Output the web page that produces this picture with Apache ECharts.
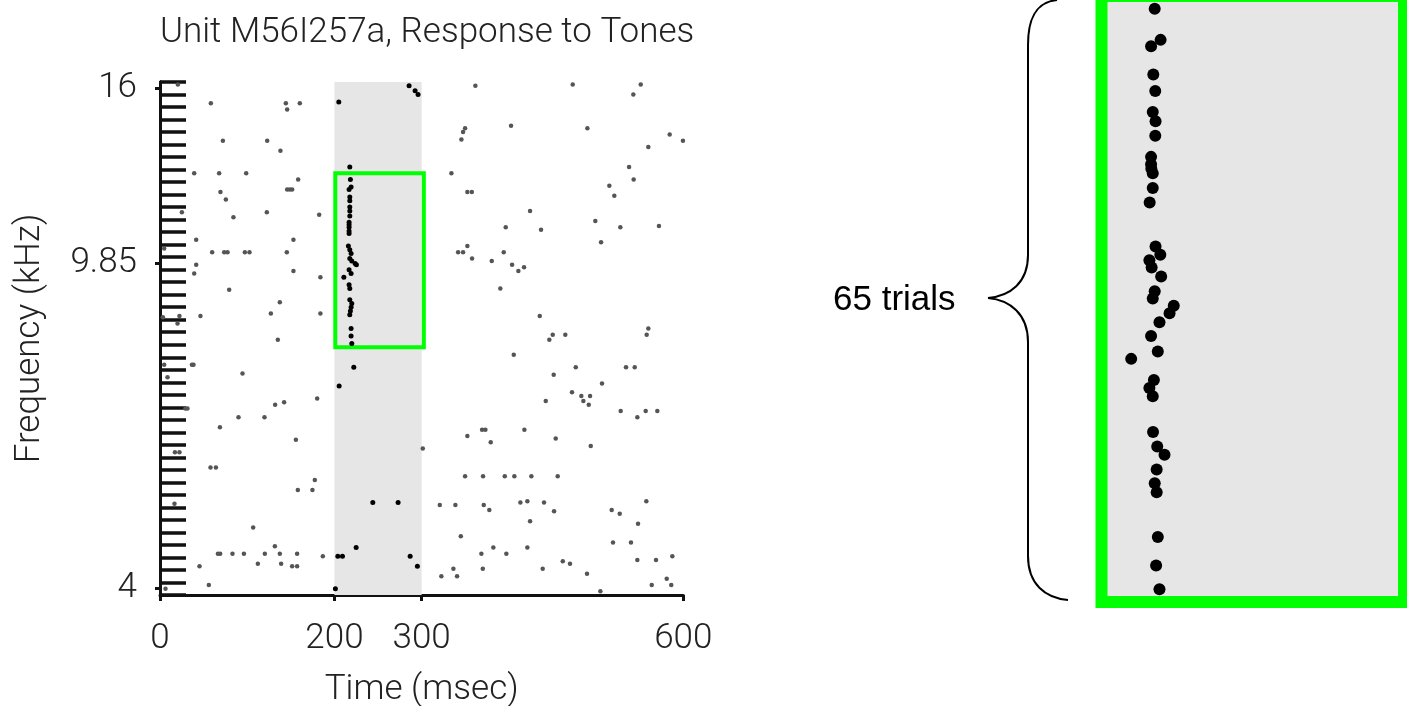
<!DOCTYPE html>
<html>
<head>
<meta charset="utf-8">
<title>Unit M56I257a, Response to Tones</title>
<script src="https://cdn.jsdelivr.net/npm/echarts@6/dist/echarts.min.js"></script>
<style>
    html, body { margin: 0; padding: 0; background: #fff; }
    #main { width: 1407px; height: 706px; }
</style>
</head>
<body>
<div id="main"></div>
<script type="text/javascript">
    var spikeTime = [
        20.5, 58.3, 144.3, 160.3, 145.8, 72.1, 122.9, 138.1, 39.2, 67.8, 98.8, 158.4,
        145.8, 148.9, 151.5, 69.3, 75.5, 25.1, 122.5, 182.5, 84.2, 41.5, 153.0, 4.8,
        59.8, 73.6, 77.4, 97.3, 102.6, 145.4, 41.5, 39.2, 153.0, 183.9, 79.3, 137.4,
        22.3, 3.3, 46.4, 127.1, 183.9, 20.1, 135.1, 205.0,
        4.8, 36.6, 38.4, 94.6, 8.6, 205.4, 180.2, 132.0, 142.3, 29.2, 31.5, 90.0,
        119.8, 68.7, 155.8, 17.1, 22.3, 57.9, 64.1, 177.5, 158.0, 174.8, 16.6, 106.8,
        131.7, 66.4, 69.0, 83.1, 96.2, 120.2, 137.4, 157.2, 186.7, 203.9, 209.2, 45.3,
        112.2, 138.9, 151.5, 157.2, 56.0, 6.3, 201.1,
        285.6, 292.5, 295.9, 222.2, 244.0, 273.0, 224.9, 286.8, 295.1, 301.3,
        217.6, 218.3, 219.1, 216.8, 217.6, 217.6, 217.6, 217.6, 217.6, 216.8, 216.8, 216.8,
        216.8, 216.8, 216.0, 217.6, 219.1, 217.6, 219.9, 223.7, 225.2, 216.8, 219.1, 210.8,
        216.8, 217.6, 217.6, 219.9, 219.1, 218.3, 217.6, 219.1, 219.1, 219.9,
        361.6, 402.5, 349.8, 347.5, 345.6, 334.1, 352.4, 357.5, 396.4, 352.4, 341.8, 347.5,
        357.8, 394.1, 380.4, 403.7, 390.2,
        405.6, 369.3, 373.1, 352.4, 379.2, 349.8, 370.4, 395.3, 406.3, 425.8, 456.0, 320.8,
        338.7, 371.2, 377.6, 344.9, 382.2, 368.5, 397.1, 336.4, 370.1, 322.6, 340.6,
        473.2, 551.2, 542.7, 490.0, 584.4, 599.6, 559.9, 537.8, 543.1, 515.2, 520.9, 424.3,
        436.9, 499.1, 527.8, 572.1, 505.7, 410.9, 417.4, 435.4, 559.9, 558.0, 450.3, 464.7,
        446.4,
        476.7, 534.3, 544.3, 451.4, 506.8, 472.4, 483.1, 493.1, 485.4, 491.6, 442.3, 528.2,
        556.9, 570.2, 547.3, 417.8, 453.7, 493.9, 413.2, 421.2, 440.3, 451.8, 557.6, 517.9,
        527.1, 424.3, 548.1, 519.4, 540.0, 421.2, 547.3, 568.7, 587.4, 438.8, 461.8, 470.1,
        489.6, 581.0, 563.8, 586.2, 504.9
    ];
    var spikeRow = [
        40.3, 38.8, 38.8, 38.8, 38.3, 35.8, 35.8, 35.0, 33.2, 33.2, 33.2, 32.7,
        31.9, 31.9, 31.9, 31.7, 31.1, 30.1, 30.1, 29.9, 29.7, 27.9, 27.9, 27.2,
        26.9, 26.9, 26.9, 26.9, 26.9, 26.9, 25.9, 25.2, 25.4, 24.9, 23.9, 22.9,
        21.8, 21.7, 21.8, 22.0, 22.0, 21.2, 19.9, 38.9,
        17.9, 17.9, 17.9, 17.2, 16.9, 16.2, 15.2, 14.7, 14.9, 14.4, 14.4, 13.7,
        13.7, 12.9, 11.9, 10.9, 10.9, 9.7, 9.7, 8.7, 7.9, 7.9, 6.8, 4.9,
        3.4, 2.8, 2.8, 2.8, 2.8, 2.8, 2.8, 2.8, 2.6, 2.6, 2.6, 1.8,
        2.0, 2.0, 1.8, 1.8, 0.3, 0.0, 0.0,
        40.2, 39.8, 39.5, 17.7, 6.9, 6.9, 3.3, 2.6, 1.8, 11.2,
        33.7, 32.7, 32.1, 31.9, 31.3, 31.0, 30.5, 30.2, 29.8, 29.3, 29.1, 28.9,
        28.6, 28.4, 27.4, 27.1, 26.8, 26.4, 26.2, 26.0, 25.9, 25.5, 25.2, 24.9,
        24.3, 24.0, 23.1, 22.8, 22.5, 22.2, 21.9, 20.8, 20.2, 19.6,
        40.2, 37.0, 36.8, 36.5, 35.9, 33.2, 31.7, 31.7, 28.9, 27.4, 26.9, 26.9,
        26.4, 26.9, 26.2, 25.9, 24.0,
        18.7, 12.7, 12.7, 12.2, 11.7, 9.0, 9.0, 9.0, 9.0, 9.0, 9.0, 6.7,
        6.7, 6.7, 6.3, 4.2, 3.3, 2.8, 2.8, 1.6, 1.6, 1.0, 1.0,
        40.3, 40.3, 39.5, 36.8, 36.3, 35.8, 35.3, 33.7, 32.7, 32.2, 31.4, 30.2,
        28.7, 29.4, 28.9, 29.0, 27.7, 25.4, 25.7, 21.8, 20.8, 20.3, 20.3, 20.3,
        19.9,
        17.7, 17.7, 17.7, 17.1, 16.4, 15.7, 15.4, 15.4, 15.0, 14.7, 15.0, 14.2,
        14.2, 14.2, 13.7, 12.7, 12.0, 11.4, 6.9, 7.0, 6.9, 6.2, 7.0, 6.3,
        6.0, 5.4, 5.2, 3.7, 3.7, 3.3, 2.3, 2.3, 2.6, 1.6, 2.2, 2.0,
        1.2, 0.8, 0.3, 0.3, -0.2
    ];

    // labelled frequencies (kHz) and time ticks (ms)
    var freqKHz = [4, 9.85, 16];
    var freqLabel = ['4', '9.85', '16'];
    var timeTicks = [0, 200, 300, 600];

    // tone on, and the zoomed box (ms / rows)
    var toneWindow = [200, 300];
    var boxTime = [201, 302.5];
    var boxRow = [19.3, 33.2];

    // zoomed inset: spike time (ms) per trial
    var insetTime = [
        217.0, 219.1, 215.7, 216.5, 217.2, 216.3, 217.3, 217.2, 215.7, 215.7, 215.8, 216.3, 216.3,
        215.2, 217.3, 219.0, 215.1, 215.9, 219.3, 217.0, 216.3, 223.8, 222.3, 218.7, 215.7, 218.1,
        208.6, 216.7, 215.1, 216.3, 216.4, 217.9, 220.5, 217.7, 217.0, 217.7, 218.1, 217.5, 218.7
    ];
    var insetTrial = [
        64.2, 60.8, 60.1, 57.0, 55.2, 52.9, 51.9, 50.3, 48.0, 47.2, 46.7, 46.2, 44.6,
        43.0, 38.2, 37.3, 36.7, 35.9, 34.9, 33.3, 32.5, 31.7, 30.9, 29.9, 28.4, 26.7,
        25.9, 23.6, 22.7, 21.8, 17.9, 16.3, 15.4, 13.8, 12.3, 11.3, 6.4, 3.3, 0.7
    ];

    var FONT = 'Roboto';
    var TEXT = { fontFamily: FONT, fontWeight: 300, fontSize: 35, color: '#222' };

    // frequency -> row (20 steps per octave)
    var freqRow = freqKHz.map(function (f) {
        return Math.round(Math.log2(f / 4) * 20 * 100) / 100;
    });
    function inTone(t) {
        return t >= toneWindow[0] && t <= toneWindow[1];
    }
    var spikeData = spikeTime.map(function (t, i) { return [t, spikeRow[i]]; });
    var insetData = insetTime.map(function (t, i) { return [t, insetTrial[i]]; });

    // curly brace next to the inset
    var braceStyle = { fill: 'none', stroke: '#000', lineWidth: 2 };
    function curve(x1, y1, cx1, cy1, cx2, cy2, x2, y2) {
        return {
            type: 'bezierCurve',
            shape: { x1: x1, y1: y1, cpx1: cx1, cpy1: cy1, cpx2: cx2, cpy2: cy2, x2: x2, y2: y2 },
            style: braceStyle
        };
    }
    function segment(x1, y1, x2, y2) {
        return { type: 'line', shape: { x1: x1, y1: y1, x2: x2, y2: y2 }, style: braceStyle };
    }

    var myChart = echarts.init(document.getElementById('main'));

    var option = {
        animation: false,
        backgroundColor: '#fff',
        title: {
            text: 'Unit M56I257a, Response to Tones',
            left: 160,
            top: 16,
            padding: 0,
            textStyle: TEXT
        },
        grid: [
            { left: 160, top: 82, width: 523.3, height: 513, outerBoundsMode: 'none' },
            {
                left: 1101.5, top: -4, width: 302.5, height: 606, outerBoundsMode: 'none',
                show: true, backgroundColor: '#e6e6e6',
                borderColor: '#00ff00', borderWidth: 12
            }
        ],
        xAxis: [
            {
                gridIndex: 0,
                type: 'value',
                min: 0,
                max: 600,
                name: 'Time (msec)',
                nameLocation: 'middle',
                nameGap: 78,
                nameTextStyle: TEXT,
                axisLine: { onZero: false, lineStyle: { color: '#111', width: 3 } },
                axisTick: { customValues: timeTicks, length: 6, lineStyle: { color: '#111', width: 3 } },
                axisLabel: Object.assign({ customValues: timeTicks, margin: 27 }, TEXT),
                splitLine: { show: false }
            },
            { gridIndex: 1, type: 'value', min: 198, max: 306, show: false }
        ],
        yAxis: [
            {
                // one tick per frequency step
                gridIndex: 0,
                type: 'value',
                position: 'left',
                min: -0.5,
                max: 40.5,
                interval: 1,
                axisLine: { onZero: false, show: true, lineStyle: { color: '#111', width: 3 } },
                axisTick: { show: true, inside: true, length: 26, lineStyle: { color: '#111', width: 3.5 } },
                axisLabel: { show: false },
                splitLine: { show: false }
            },
            {
                gridIndex: 0,
                type: 'value',
                position: 'left',
                min: -0.5,
                max: 40.5,
                name: 'Frequency (kHz)',
                nameLocation: 'middle',
                nameGap: 112,
                nameRotate: 90,
                nameTextStyle: TEXT,
                axisLine: { onZero: false, show: true, lineStyle: { color: '#111', width: 3 } },
                axisTick: { show: true, customValues: freqRow, length: 5, lineStyle: { color: '#111', width: 3 } },
                axisLabel: Object.assign({
                    customValues: freqRow,
                    margin: 23,
                    formatter: function (v) {
                        for (var i = 0; i < freqRow.length; i++) {
                            if (Math.abs(freqRow[i] - v) < 0.01) return freqLabel[i];
                        }
                        return '';
                    }
                }, TEXT),
                splitLine: { show: false }
            },
            { gridIndex: 1, type: 'value', min: -0.7, max: 65.6, show: false }
        ],
        series: [
            {
                // tone on
                type: 'scatter',
                xAxisIndex: 0,
                yAxisIndex: 0,
                data: [],
                silent: true,
                z: 1,
                markArea: {
                    silent: true,
                    itemStyle: { color: '#e6e6e6' },
                    data: [[{ xAxis: toneWindow[0] }, { xAxis: toneWindow[1] }]]
                }
            },
            {
                name: 'spikes',
                type: 'scatter',
                xAxisIndex: 0,
                yAxisIndex: 0,
                data: spikeData,
                z: 3,
                symbolSize: function (v) { return inTone(v[0]) ? 5 : 4.5; },
                itemStyle: {
                    opacity: 1,
                    color: function (p) { return inTone(p.value[0]) ? '#000' : '#555'; }
                }
            },
            {
                // zoomed region
                type: 'scatter',
                xAxisIndex: 0,
                yAxisIndex: 0,
                data: [],
                silent: true,
                z: 4,
                markArea: {
                    silent: true,
                    itemStyle: { color: 'rgba(0,0,0,0)', borderColor: '#00ff00', borderWidth: 4 },
                    data: [[{ coord: [boxTime[0], boxRow[1]] }, { coord: [boxTime[1], boxRow[0]] }]]
                }
            },
            {
                name: 'inset',
                type: 'scatter',
                xAxisIndex: 1,
                yAxisIndex: 2,
                data: insetData,
                symbolSize: 12,
                itemStyle: { color: '#000', opacity: 1 },
                z: 5
            }
        ],
        graphic: [
            {
                type: 'group',
                children: [
                    curve(1057, 0, 1036, 2, 1028, 18, 1028, 45),
                    segment(1028, 45, 1028, 255),
                    curve(1028, 255, 1028, 283, 1010, 296, 988, 298),
                    curve(988, 298, 1010, 300, 1028, 314, 1028, 342),
                    segment(1028, 342, 1028, 556),
                    curve(1028, 556, 1028, 584, 1045, 598, 1068, 600)
                ]
            },
            {
                type: 'text',
                x: 833,
                y: 300,
                style: {
                    text: '65 trials',
                    font: '35px "Liberation Sans", Arial, sans-serif',
                    fill: '#000',
                    verticalAlign: 'middle'
                }
            }
        ]
    };

    myChart.setOption(option);
</script>
</body>
</html>
